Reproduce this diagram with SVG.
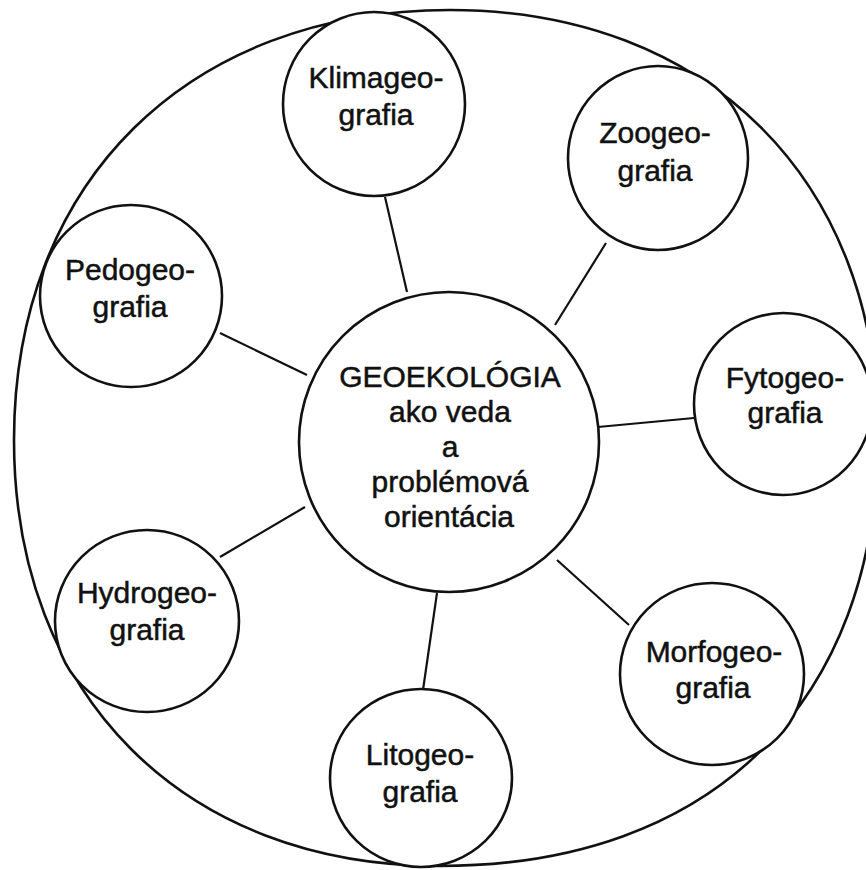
<svg xmlns="http://www.w3.org/2000/svg" width="866" height="870" viewBox="0 0 866 870">
<style>
.outer{fill:none;stroke:#111;stroke-width:2.6}
.node{fill:#fff;stroke:#111;stroke-width:2.6}
.conn line{stroke:#111;stroke-width:2.2}
text{font-family:"Liberation Sans",Arial,sans-serif;font-size:30px;fill:#111;stroke:#111;stroke-width:0.5;text-anchor:middle}
</style>
<rect width="866" height="870" fill="#fff"/>
<path id="outer" class="outer" d="M450 10 C707 10 878 180 878 435 C878 702 712 866 440 866 C184 866 14 696 14 440 C14 182 188 10 450 10 Z"/>
<g id="connectors" class="conn">
<line x1="385" y1="197" x2="407" y2="292"/>
<line x1="606" y1="243" x2="555" y2="325"/>
<line x1="220" y1="333" x2="307" y2="375"/>
<line x1="598" y1="427" x2="694" y2="418"/>
<line x1="220" y1="557" x2="305" y2="507"/>
<line x1="557" y1="560" x2="629" y2="625"/>
<line x1="437" y1="593" x2="423" y2="690"/>
</g>
<g id="center">
<ellipse class="node" cx="449" cy="442" rx="150" ry="150"/>
<text x="450" y="387">GEOEKOLÓGIA</text>
<text x="450" y="422">ako veda</text>
<text x="450" y="457">a</text>
<text x="450" y="492">problémová</text>
<text x="449" y="527">orientácia</text>
</g>
<g id="klimageografia">
<ellipse class="node" cx="374" cy="104" rx="91" ry="92"/>
<text x="376" y="88">Klimageo-</text>
<text x="376" y="125">grafia</text>
</g>
<g id="zoogeografia">
<ellipse class="node" cx="658" cy="158" rx="90" ry="92"/>
<text x="655" y="143">Zoogeo-</text>
<text x="655" y="181">grafia</text>
</g>
<g id="pedogeografia">
<ellipse class="node" cx="131" cy="296" rx="91" ry="91"/>
<text x="130" y="280">Pedogeo-</text>
<text x="130" y="317">grafia</text>
</g>
<g id="fytogeografia">
<ellipse class="node" cx="783" cy="404" rx="89" ry="91"/>
<text x="785" y="388">Fytogeo-</text>
<text x="785" y="423">grafia</text>
</g>
<g id="hydrogeografia">
<ellipse class="node" cx="147" cy="621" rx="92" ry="91"/>
<text x="147" y="603">Hydrogeo-</text>
<text x="147" y="640">grafia</text>
</g>
<g id="morfogeografia">
<ellipse class="node" cx="712" cy="674" rx="92" ry="91"/>
<text x="714" y="662">Morfogeo-</text>
<text x="713" y="698">grafia</text>
</g>
<g id="litogeografia">
<ellipse class="node" cx="421" cy="778" rx="91" ry="89"/>
<text x="420" y="765">Litogeo-</text>
<text x="420" y="802">grafia</text>
</g>
</svg>
